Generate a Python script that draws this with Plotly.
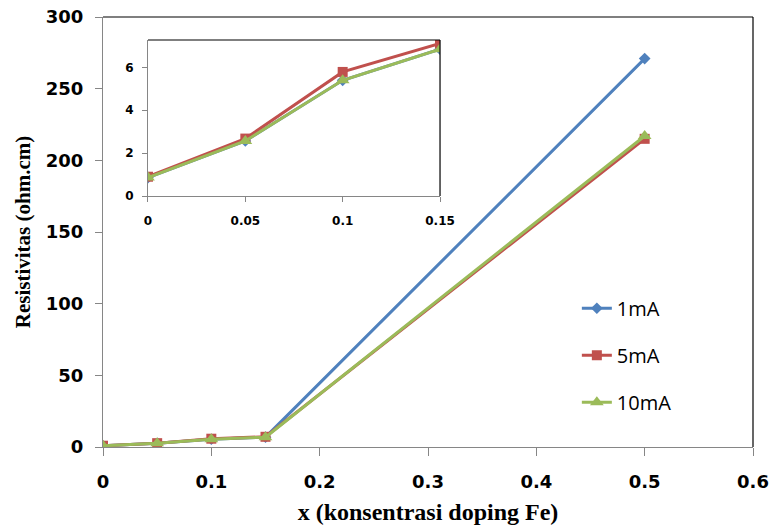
import plotly.graph_objects as go

x_main = [0, 0.05, 0.1, 0.15, 0.5]
r_1mA = [0.86, 2.57, 5.4, 6.85, 271]
r_5mA = [0.9, 2.68, 5.79, 7.12, 215]
r_10mA = [0.86, 2.57, 5.4, 6.85, 217]

x_inset = [0, 0.05, 0.1, 0.15]

names = ["1mA", "5mA", "10mA"]
series = [r_1mA, r_5mA, r_10mA]
colors = ["#4F81BD", "#C0504D", "#9BBB59"]
symbols = ["diamond", "square", "triangle-up"]
msizes = [9, 10, 12]

x_ticks = [0, 0.1, 0.2, 0.3, 0.4, 0.5, 0.6]
x_ticklabels = ["0", "0.1", "0.2", "0.3", "0.4", "0.5", "0.6"]
y_ticks = [0, 50, 100, 150, 200, 250, 300]
inset_x_ticks = [0, 0.05, 0.1, 0.15]
inset_x_labels = ["0", "0.05", "0.1", "0.15"]
inset_y_ticks = [0, 2, 4, 6]

fig = go.Figure()
for name, ys, c, s, ms in zip(names, series, colors, symbols, msizes):
    fig.add_trace(go.Scatter(
        x=x_main, y=ys, mode="lines+markers", name=name, legendgroup=name,
        line=dict(color=c, width=3), marker=dict(symbol=s, size=ms, color=c),
        xaxis="x", yaxis="y"))
for name, ys, c, s, ms in zip(names, series, colors, symbols, msizes):
    fig.add_trace(go.Scatter(
        x=x_inset, y=ys[:4], mode="lines+markers", name=name, legendgroup=name,
        showlegend=False,
        line=dict(color=c, width=3), marker=dict(symbol=s, size=ms, color=c),
        xaxis="x2", yaxis="y2"))

tickfont = dict(family="DejaVu Sans", size=18, color="#000000", weight="bold")
insetfont = dict(family="DejaVu Sans", size=12, color="#000000", weight="bold")
gray = "#868686"

fig.update_layout(
    width=771, height=531,
    margin=dict(l=103, r=18, t=17, b=84),
    paper_bgcolor="white", plot_bgcolor="white",
    font=dict(family="DejaVu Sans", color="#000"),
    xaxis=dict(domain=[0, 1], range=[0, 0.6], tickvals=x_ticks, ticktext=x_ticklabels,
               automargin=False,
               showgrid=False, zeroline=False, showline=True, linecolor=gray, linewidth=1,
               ticks="outside", ticklen=8, tickcolor=gray, tickfont=tickfont,
               ticklabelstandoff=10,
               title=dict(text="<b>x (konsentrasi doping Fe)</b>",
                          font=dict(family="Liberation Serif", size=24), standoff=12)),
    yaxis=dict(domain=[0, 1], range=[0, 300], tickvals=y_ticks,
               automargin=False,
               showgrid=False, zeroline=False, showline=True, linecolor=gray, linewidth=1,
               ticks="outside", ticklen=7, tickcolor=gray, tickfont=tickfont,
               ticklabelstandoff=8,
               title=dict(text="<b>Resistivitas (ohm.cm)</b>",
                          font=dict(family="Liberation Serif", size=21), standoff=9)),
    xaxis2=dict(domain=[0.0692, 0.5185], anchor="y2", range=[0, 0.15],
                tickvals=inset_x_ticks, ticktext=inset_x_labels, automargin=False,
                showgrid=False, zeroline=False, showline=True, linecolor=gray,
                ticks="outside", ticklen=5, tickcolor=gray,
                tickfont=insetfont, ticklabelstandoff=9),
    yaxis2=dict(domain=[0.5837, 0.9465], anchor="x2", range=[0, 7.28],
                tickvals=inset_y_ticks, automargin=False,
                showgrid=False, zeroline=False, showline=True, linecolor=gray,
                ticks="outside", ticklen=5, tickcolor=gray,
                tickfont=insetfont, ticklabelstandoff=6),
    legend=dict(x=0.729, y=0.368, xanchor="left", yanchor="top",
                font=dict(family="Open Sans", size=20, color="#000"),
                bgcolor="rgba(0,0,0,0)", tracegroupgap=18, traceorder="grouped",
                itemwidth=30),
    showlegend=True,
)

# black top/right borders of main plot and inset
for xr, yr in [("x domain", "y domain"), ("x2 domain", "y2 domain")]:
    fig.add_shape(type="line", xref=xr, yref=yr, x0=0, x1=1, y0=1, y1=1,
                  line=dict(color="black", width=1.2))
    fig.add_shape(type="line", xref=xr, yref=yr, x0=1, x1=1, y0=0, y1=1,
                  line=dict(color="black", width=1.2))

fig.write_html("out.html")
